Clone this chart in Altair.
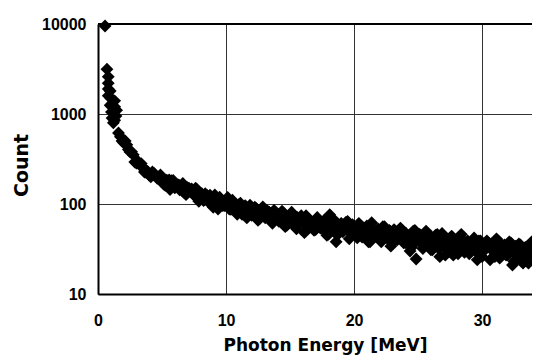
import altair as alt
import pandas as pd

# Low-energy points (MeV, counts)
energy_low = [0.55, 0.7, 0.8, 0.8, 0.8, 0.8, 0.95, 1.0, 0.95, 1.05, 1.1, 1.2, 1.3, 1.3, 1.45, 1.4, 1.3]
count_low = [9500, 3150, 2600, 2200, 1900, 1600, 1800, 1500, 1250, 1050, 900, 800, 1400, 1200, 1100, 950, 850]

# Main band of the spectrum (first set of bins)
energy_band = [1.6, 1.75,
    2.0, 2.25, 2.5, 2.75, 3.0, 3.25, 3.5, 3.75, 4.0, 4.25, 4.5, 4.75,
    5.0, 5.25, 5.5, 5.75, 6.0, 6.25, 6.5, 6.75, 7.0, 7.25, 7.5, 7.75,
    8.0, 8.25, 8.5, 8.75, 9.0, 9.25, 9.5, 9.75, 10.0, 10.25, 10.5, 10.75,
    11.0, 11.25, 11.5, 11.75, 12.0, 12.25, 12.5, 12.75, 13.0, 13.25, 13.5, 13.75,
    14.0, 14.25, 14.5, 14.75, 15.0, 15.25, 15.5, 15.75, 16.0, 16.25, 16.5, 16.75,
    17.0, 17.25, 17.5, 17.75, 18.0, 18.25, 18.5, 18.75, 19.0, 19.25, 19.5, 19.75,
    20.0, 20.25, 20.5, 20.75, 21.0, 21.25, 21.5, 21.75, 22.0, 22.25, 22.5, 22.75,
    23.0, 23.25, 23.5, 23.75, 24.0, 24.25, 24.5, 24.75, 25.0, 25.25, 25.5, 25.75,
    26.0, 26.25, 26.5, 26.75, 27.0, 27.25, 27.5, 27.75, 28.0, 28.25, 28.5, 28.75,
    29.0, 29.25, 29.5, 29.75, 30.0, 30.25, 30.5, 30.75, 31.0, 31.25, 31.5, 31.75,
    32.0, 32.25, 32.5, 32.75, 33.0, 33.25, 33.5, 33.75, 34.0, 34.25, 34.5]
count_band = [615, 560,
    478, 454, 379, 352, 284, 272, 257, 225, 210, 227, 204, 190,
    197, 161, 179, 182, 151, 162, 150, 134, 152, 140, 125, 144,
    121, 109, 125, 125, 92, 112, 119, 96, 100, 88, 110, 91,
    98, 77, 96, 86, 75, 92, 66, 83, 74, 83, 66, 85,
    73, 66, 79, 58, 69, 73, 53, 68, 62, 74, 55, 63,
    52, 66, 54, 67, 46, 56, 60, 46, 61, 52, 64, 47,
    54, 42, 57, 47, 57, 38, 52, 49, 41, 56, 42, 51,
    37, 48, 43, 51, 37, 44, 33, 51, 39, 44, 35, 45,
    31, 39, 46, 34, 42, 31, 42, 27, 38, 43, 32, 35,
    28, 39, 30, 39, 26, 35, 37, 31, 26, 39, 31, 35,
    27, 37, 23, 32, 35, 27, 25, 32, 36, 25, 29]

# Main band (second, interleaved set of bins)
energy_band2 = [1.875,
    2.125, 2.375, 2.625, 2.875, 3.125, 3.375, 3.625, 3.875, 4.125, 4.375, 4.625, 4.875,
    5.125, 5.375, 5.625, 5.875, 6.125, 6.375, 6.625, 6.875, 7.125, 7.375, 7.625, 7.875,
    8.125, 8.375, 8.625, 8.875, 9.125, 9.375, 9.625, 9.875, 10.125, 10.375, 10.625, 10.875,
    11.125, 11.375, 11.625, 11.875, 12.125, 12.375, 12.625, 12.875, 13.125, 13.375, 13.625, 13.875,
    14.125, 14.375, 14.625, 14.875, 15.125, 15.375, 15.625, 15.875, 16.125, 16.375, 16.625, 16.875,
    17.125, 17.375, 17.625, 17.875, 18.125, 18.375, 18.625, 18.875, 19.125, 19.375, 19.625, 19.875,
    20.125, 20.375, 20.625, 20.875, 21.125, 21.375, 21.625, 21.875, 22.125, 22.375, 22.625, 22.875,
    23.125, 23.375, 23.625, 23.875, 24.125, 24.375, 24.625, 24.875, 25.125, 25.375, 25.625, 25.875,
    26.125, 26.375, 26.625, 26.875, 27.125, 27.375, 27.625, 27.875, 28.125, 28.375, 28.625, 28.875,
    29.125, 29.375, 29.625, 29.875, 30.125, 30.375, 30.625, 30.875, 31.125, 31.375, 31.625, 31.875,
    32.125, 32.375, 32.625, 32.875, 33.125, 33.375, 33.625, 33.875, 34.125]
count_band2 = [502,
    502, 403, 380, 293, 297, 281, 227, 230, 201, 219, 193, 210,
    167, 184, 145, 183, 159, 144, 169, 127, 149, 132, 150, 107,
    129, 130, 105, 115, 126, 88, 112, 96, 118, 87, 98, 77,
    102, 87, 70, 97, 76, 89, 69, 93, 73, 81, 61, 81,
    64, 83, 56, 70, 81, 57, 63, 74, 48, 68, 61, 51,
    71, 54, 65, 45, 59, 68, 46, 56, 49, 63, 41, 59,
    50, 61, 43, 54, 38, 62, 44, 53, 38, 56, 45, 34,
    52, 40, 54, 37, 45, 30, 50, 39, 46, 32, 50, 39,
    31, 45, 32, 47, 27, 39, 44, 33, 28, 46, 29, 39,
    33, 42, 24, 39, 30, 39, 24, 35, 41, 25, 32, 27,
    38, 21, 34, 36, 25, 33, 22, 38, 27]

# Main band (third set of bins, fills the core of the band)
energy_band3 = [
    5.0625, 5.3125, 5.5625, 5.8125, 6.0625, 6.3125, 6.5625, 6.8125,
    7.0625, 7.3125, 7.5625, 7.8125, 8.0625, 8.3125, 8.5625, 8.8125,
    9.0625, 9.3125, 9.5625, 9.8125, 10.0625, 10.3125, 10.5625, 10.8125,
    11.0625, 11.3125, 11.5625, 11.8125, 12.0625, 12.3125, 12.5625, 12.8125,
    13.0625, 13.3125, 13.5625, 13.8125, 14.0625, 14.3125, 14.5625, 14.8125,
    15.0625, 15.3125, 15.5625, 15.8125, 16.0625, 16.3125, 16.5625, 16.8125,
    17.0625, 17.3125, 17.5625, 17.8125, 18.0625, 18.3125, 18.5625, 18.8125,
    19.0625, 19.3125, 19.5625, 19.8125, 20.0625, 20.3125, 20.5625, 20.8125,
    21.0625, 21.3125, 21.5625, 21.8125, 22.0625, 22.3125, 22.5625, 22.8125,
    23.0625, 23.3125, 23.5625, 23.8125, 24.0625, 24.3125, 24.5625, 24.8125,
    25.0625, 25.3125, 25.5625, 25.8125, 26.0625, 26.3125, 26.5625, 26.8125,
    27.0625, 27.3125, 27.5625, 27.8125, 28.0625, 28.3125, 28.5625, 28.8125,
    29.0625, 29.3125, 29.5625, 29.8125, 30.0625, 30.3125, 30.5625, 30.8125,
    31.0625, 31.3125, 31.5625, 31.8125, 32.0625, 32.3125, 32.5625, 32.8125,
    33.0625, 33.3125, 33.5625, 33.8125]
count_band3 = [
    191, 173, 185, 165, 162, 163, 141, 151, 138, 147, 127, 130, 130, 112, 120, 111, 117, 107, 99, 107,
    100, 93, 104, 90, 95, 82, 89, 90, 78, 82, 78, 85, 70, 78, 79, 71, 71, 76, 65, 68,
    70, 62, 71, 63, 64, 57, 65, 58, 61, 56, 63, 57, 51, 58, 54, 56, 51, 57, 51, 54,
    51, 57, 47, 51, 53, 46, 48, 50, 42, 48, 44, 50, 42, 47, 43, 41, 47, 42, 37, 43,
    44, 40, 40, 36, 43, 36, 40, 36, 38, 33, 39, 36, 33, 39, 35, 36, 33, 37, 30, 34,
    31, 35, 33, 31, 35, 29, 33, 32, 30, 33, 28, 32, 30, 28, 31, 29]

# A few scattered points
energy_extra = [24.85, 18.6, 26.7, 33.2, 18.1]
count_extra = [24.5, 38, 26, 22, 76]

df = pd.DataFrame({
    "energy": energy_low + energy_band + energy_band2 + energy_band3 + energy_extra,
    "count": count_low + count_band + count_band2 + count_band3 + count_extra,
})

x_axis = alt.Axis(
    values=[0, 10, 20, 30], title="Photon Energy [MeV]", grid=True,
    gridColor="#333333", gridWidth=1, domainColor="#000000", domainWidth=2,
    ticks=False, labelPadding=18, labelFlush=False,
    labelFont="Liberation Sans", labelFontSize=16, labelFontWeight="bold", labelColor="#000000",
    titleFont="DejaVu Sans", titleFontSize=17, titleFontWeight="bold", titleColor="#000000",
    titleX=227, titleY=56, titleAlign="center", titleBaseline="alphabetic",
)
y_axis = alt.Axis(
    values=[10, 100, 1000, 10000], format="d", title="Count", grid=True,
    gridColor="#333333", gridWidth=1, domainColor="#000000", domainWidth=2,
    ticks=False, labelPadding=12, labelFlush=False,
    labelFont="Liberation Sans", labelFontSize=16, labelFontWeight="bold", labelColor="#000000",
    titleFont="DejaVu Sans", titleFontSize=19, titleFontWeight="bold", titleColor="#000000",
    titleX=-77, titleY=141, titleAngle=270, titleAlign="center", titleBaseline="middle",
)

points = alt.Chart(df).mark_point(
    shape="diamond", filled=True, size=165, color="#000000", opacity=1, strokeWidth=0
).encode(
    x=alt.X("energy:Q", scale=alt.Scale(domain=[0, 33.9], nice=False, zero=False), axis=x_axis),
    y=alt.Y("count:Q", scale=alt.Scale(type="log", domain=[10, 10000], nice=False), axis=y_axis),
)

top_rule = alt.Chart(df).mark_rule(color="#000000", strokeWidth=2).encode(
    y=alt.datum(10000), x=alt.value(0), x2=alt.value(434)
)

chart = alt.layer(points, top_rule).properties(
    width=434, height=270,
    autosize=alt.AutoSizeParams(type="none"),
    padding={"left": 90, "top": 16, "right": 0, "bottom": 61},
    background="#ffffff",
).configure_view(stroke=None)

chart.save("out.html", embed_options={"renderer": "svg", "actions": False})
